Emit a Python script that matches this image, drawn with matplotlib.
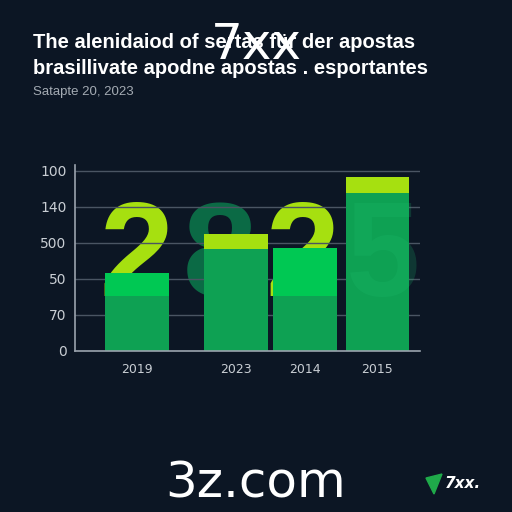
import matplotlib
matplotlib.use("Agg")
import matplotlib.pyplot as plt
from matplotlib.patches import Polygon

# data
years = ["2019", "2023", "2014", "2015"]
xpos = [0.0, 1.0, 1.7, 2.43]
base = [1.53, 2.83, 1.53, 4.39]
mid = [0.64, 0.0, 1.33, 0.0]
top = [0.0, 0.42, 0.0, 0.44]
ytick_labels = ["0", "70", "50", "500", "140", "100"]
digits = ["2", "8", "2", "5"]

bg = "#0c1624"
fig = plt.figure(figsize=(5.12, 5.12), dpi=100, facecolor=bg)
ax = fig.add_axes([0.1465, 0.3145, 0.6735, 0.3635])
ax.set_facecolor(bg)

# big decorative digits behind the bars
dcol = ["#a6e010", "#0b6a45", "#a6e010", "#1fc070"]
dshift = [0.0, -0.16, -0.03, 0.06]
for i, d in enumerate(digits):
    ax.text(xpos[i] + dshift[i], 1.53, d, ha="center", va="baseline", fontsize=96,
            fontweight="bold", family="Liberation Sans", color=dcol[i],
            zorder=1 if i < 3 else 4, alpha=1 if i < 3 else 0.2)

w = 0.64
ax.bar(xpos, base, width=w, color="#0ea153", zorder=3)
ax.bar(xpos, mid, width=w, bottom=base, color="#00c853", zorder=3)
b2 = [b + m for b, m in zip(base, mid)]
ax.bar(xpos, top, width=w, bottom=b2, color="#a6e010", zorder=3)

ax.set_xlim(-0.626, 2.86)
ax.set_ylim(0, 5.17)
ax.set_yticks(range(len(ytick_labels)))
ax.set_yticklabels(ytick_labels)
ax.set_xticks(xpos)
ax.set_xticklabels(years)
ax.tick_params(axis="y", length=0, pad=6, colors="#c9ced4", labelsize=10)
ax.tick_params(axis="x", length=0, pad=9, colors="#c9ced4", labelsize=9)
ax.grid(axis="y", color="#4a5563", lw=1, zorder=0)
for s in ["top", "right"]:
    ax.spines[s].set_visible(False)
for s in ["left", "bottom"]:
    ax.spines[s].set_color("#9aa3ad")
    ax.spines[s].set_linewidth(1.2)
    ax.spines[s].set_zorder(5)

# title block
fig.text(33/512, 1-43/512, "The alenidaiod of sertas für der apostas", color="white",
         fontsize=14.5, fontweight="bold", family="Liberation Sans", va="center")
fig.text(33/512, 1-69/512, "brasillivate apodne apostas . esportantes", color="white",
         fontsize=14.5, fontweight="bold", family="Liberation Sans", va="center")
fig.text(33/512, 1-92/512, "Satapte 20, 2023", color="#a4abb3",
         fontsize=9.5, family="Liberation Sans", va="center")

# watermarks
fig.text(256/512, 1-45/512, "7xx", color="white", fontsize=36, ha="center", va="center")
fig.text(256/512, 1-483/512, "3z.com", color="white", fontsize=36, ha="center", va="center")
fig.text(463/512, 1-483/512, "7xx.", color="white", fontsize=11, fontweight="bold",
         style="italic", ha="center", va="center")
fig.patches.append(Polygon([[426/512, 1-478/512], [442/512, 1-474/512], [434/512, 1-494/512]],
                           closed=True, transform=fig.transFigure, color="#1faa4a"))

fig.savefig("out.png", dpi=100, facecolor=bg)
